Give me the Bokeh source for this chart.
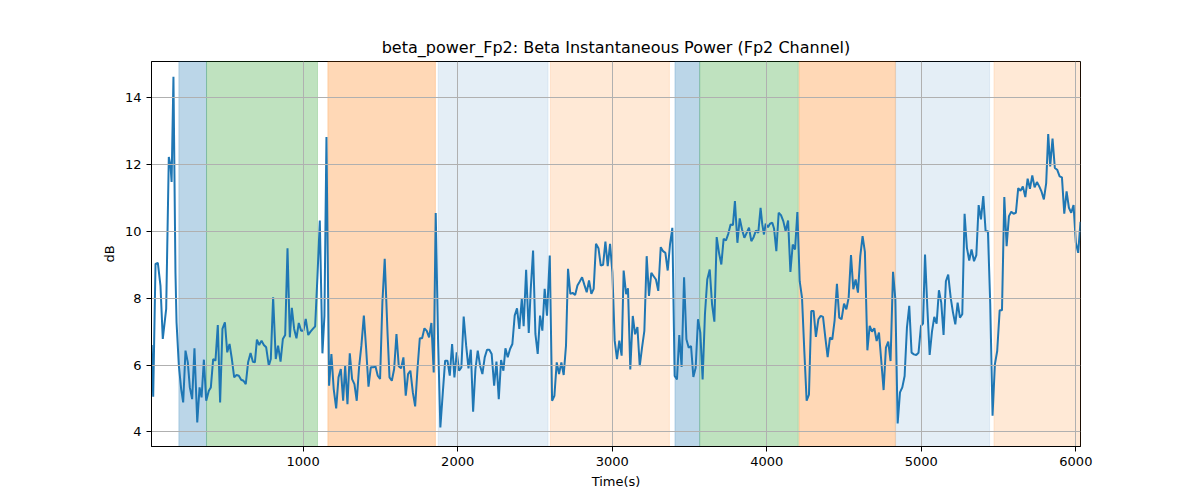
from bokeh.models import ColumnDataSource, BoxAnnotation, FixedTicker
from bokeh.plotting import figure
from bokeh.embed import file_html
from bokeh.resources import INLINE

# beta power trace (time in s, power in dB)
time_s = [20, 30, 45, 60, 77, 92, 114, 131, 142, 149, 161, 174, 181, 196, 211, 224, 239, 254, 267, 282,
          297, 315, 330, 343, 358, 373, 390, 403, 418, 433, 448, 463, 478, 494, 509, 524, 539, 554, 569, 584,
          599, 614, 629, 644, 660, 675, 688, 701, 716, 731, 746, 761, 778, 791, 806, 823, 838, 854, 869, 884,
          899, 914, 927, 942, 957, 972, 987, 1002, 1017, 1033, 1048, 1063, 1078, 1093, 1108, 1125, 1138, 1151, 1168, 1183,
          1198, 1214, 1229, 1244, 1259, 1272, 1287, 1302, 1317, 1332, 1347, 1362, 1377, 1393, 1408, 1423, 1438, 1453, 1468, 1483,
          1498, 1513, 1528, 1546, 1559, 1574, 1589, 1604, 1619, 1634, 1649, 1664, 1679, 1694, 1710, 1725, 1740, 1755, 1770, 1785,
          1800, 1815, 1830, 1845, 1858, 1873, 1888, 1904, 1919, 1934, 1949, 1964, 1979, 1994, 2009, 2024, 2039, 2055, 2070, 2085,
          2100, 2115, 2130, 2145, 2160, 2175, 2190, 2205, 2220, 2236, 2251, 2266, 2281, 2296, 2309, 2324, 2339, 2354, 2369, 2384,
          2399, 2415, 2427, 2443, 2460, 2473, 2488, 2503, 2518, 2533, 2548, 2563, 2578, 2596, 2611, 2626, 2641, 2656, 2671, 2686,
          2701, 2714, 2729, 2744, 2760, 2775, 2790, 2805, 2820, 2835, 2850, 2865, 2880, 2895, 2911, 2926, 2941, 2956, 2971, 2986,
          3001, 3016, 3031, 3046, 3061, 3074, 3090, 3102, 3117, 3133, 3148, 3163, 3178, 3193, 3208, 3223, 3238, 3253, 3268, 3283,
          3298, 3314, 3329, 3344, 3359, 3374, 3389, 3404, 3419, 3434, 3449, 3465, 3480, 3495, 3510, 3525, 3540, 3555, 3570, 3585,
          3600, 3615, 3631, 3646, 3661, 3676, 3691, 3706, 3721, 3736, 3751, 3766, 3781, 3794, 3810, 3825, 3840, 3855, 3870, 3885,
          3900, 3915, 3930, 3945, 3960, 3971, 3982, 3993, 4008, 4021, 4036, 4047, 4062, 4077, 4092, 4107, 4122, 4138, 4153, 4168,
          4183, 4198, 4213, 4228, 4243, 4258, 4273, 4288, 4303, 4318, 4334, 4349, 4364, 4379, 4394, 4409, 4424, 4439, 4454, 4469,
          4484, 4500, 4515, 4530, 4545, 4560, 4575, 4590, 4605, 4620, 4635, 4651, 4666, 4681, 4696, 4711, 4726, 4741, 4756, 4771,
          4786, 4801, 4817, 4832, 4847, 4862, 4877, 4892, 4907, 4922, 4937, 4952, 4967, 4982, 4998, 5011, 5024, 5039, 5054, 5069,
          5084, 5099, 5114, 5129, 5144, 5159, 5174, 5190, 5205, 5220, 5235, 5250, 5265, 5280, 5295, 5310, 5325, 5341, 5356, 5371,
          5386, 5401, 5416, 5431, 5446, 5461, 5476, 5491, 5507, 5522, 5537, 5552, 5567, 5582, 5597, 5612, 5627, 5642, 5657, 5673,
          5688, 5703, 5718, 5733, 5748, 5763, 5778, 5793, 5808, 5821, 5834, 5849, 5864, 5879, 5895, 5910, 5925, 5940, 5955, 5970,
          5985, 6000, 6015, 6030]
power_db = [6.6, 5.05, 9.03, 9.06, 8.38, 6.78, 7.68, 12.23, 11.98, 11.48, 14.63, 8.78, 7.28, 5.98, 5.28, 4.88, 6.43, 6.08, 5.33, 4.98,
            6.5, 4.28, 5.33, 5.03, 6.16, 4.93, 5.23, 5.33, 6.18, 6.13, 7.2, 4.88, 7.08, 7.28, 6.38, 6.63, 6.18, 5.63, 5.7, 5.68,
            5.56, 5.53, 5.43, 6.08, 6.36, 6.1, 6.08, 6.76, 6.6, 6.73, 6.6, 6.53, 5.98, 6.18, 8.03, 6.18, 6.58, 6.1, 6.78, 6.9,
            9.5, 6.83, 7.71, 7.08, 6.8, 7.26, 7.03, 7.03, 7.38, 6.9, 7.0, 7.08, 7.16, 8.68, 10.33, 6.35, 7.48, 12.83, 5.38, 6.33,
            5.28, 4.7, 5.63, 5.88, 4.93, 5.98, 4.83, 6.35, 5.58, 5.43, 4.93, 5.93, 6.58, 7.48, 6.48, 5.35, 5.93, 5.93, 5.96, 5.68,
            5.58, 7.88, 9.18, 6.98, 5.63, 5.53, 5.88, 6.93, 5.96, 5.9, 6.23, 5.08, 5.73, 5.83, 5.18, 4.76, 5.88, 6.8, 6.8, 7.1,
            7.02, 6.83, 7.26, 5.78, 10.55, 6.78, 4.13, 5.18, 6.13, 6.13, 5.68, 6.63, 5.63, 6.38, 5.83, 5.93, 7.45, 6.58, 5.9, 6.46,
            4.6, 5.88, 6.43, 5.98, 5.73, 6.23, 6.46, 6.46, 6.33, 5.38, 6.1, 4.98, 6.15, 5.83, 6.5, 6.23, 6.48, 6.63, 7.48, 7.7,
            7.08, 7.98, 7.16, 8.85, 6.96, 8.28, 9.43, 6.93, 6.33, 7.48, 7.03, 8.28, 7.48, 9.28, 4.93, 5.08, 6.08, 5.73, 6.08, 5.7,
            6.58, 8.88, 8.13, 8.16, 8.1, 8.38, 8.5, 8.63, 8.4, 8.18, 8.53, 8.13, 8.28, 9.63, 9.5, 8.98, 9.0, 9.7, 8.96, 9.63,
            8.78, 6.73, 6.18, 6.73, 6.28, 8.83, 8.12, 8.3, 5.87, 7.47, 6.92, 7.14, 5.97, 6.52, 7.02, 9.26, 8.07, 8.76, 8.66, 8.56,
            8.22, 9.53, 9.41, 9.36, 8.83, 9.61, 10.11, 5.67, 5.57, 6.9, 5.94, 8.63, 6.77, 6.52, 6.57, 5.64, 5.92, 7.37, 6.97, 5.57,
            7.52, 8.56, 8.86, 7.82, 7.3, 9.83, 9.36, 9.01, 9.78, 9.73, 9.93, 10.21, 10.19, 10.91, 9.66, 10.39, 10.06, 9.81, 9.96, 10.11,
            9.71, 9.83, 10.03, 9.96, 10.71, 10.21, 9.91, 10.23, 10.13, 10.23, 10.26, 10.09, 9.41, 10.56, 10.49, 10.31, 10.01, 10.33, 8.79, 9.61,
            9.46, 10.58, 8.51, 8.02, 6.42, 4.93, 5.11, 7.62, 7.62, 6.84, 7.37, 7.47, 7.44, 6.82, 6.24, 6.82, 6.77, 7.34, 8.43, 7.42,
            7.37, 7.84, 7.67, 8.02, 9.29, 8.27, 8.56, 8.17, 9.26, 9.86, 9.39, 6.44, 7.17, 7.0, 7.1, 6.72, 6.97, 6.12, 5.25, 6.52,
            6.7, 6.12, 8.79, 7.97, 4.25, 5.18, 5.33, 5.67, 7.12, 7.77, 6.37, 6.32, 6.3, 6.37, 7.17, 7.24, 9.31, 7.72, 6.3, 7.0,
            7.44, 7.24, 8.24, 7.87, 6.9, 8.51, 8.71, 8.02, 7.57, 7.22, 7.87, 7.42, 7.52, 10.53, 9.51, 9.13, 9.46, 9.11, 9.29, 10.79,
            10.36, 11.06, 10.01, 10.01, 7.82, 4.48, 6.02, 6.42, 7.64, 7.64, 11.03, 9.56, 10.46, 10.59, 10.53, 10.56, 11.3, 11.22, 11.35, 11.03,
            11.58, 11.28, 11.68, 11.32, 11.48, 11.35, 11.19, 10.96, 11.45, 12.92, 11.95, 12.78, 11.9, 11.85, 11.65, 11.62, 10.53, 11.2, 10.71, 10.56,
            10.79, 9.66, 9.36, 10.29]

# shaded segments (start, end, colour, alpha)
seg_start = [196, 375, 1160, 1874, 2600, 3406, 3566, 4209, 4834, 5470]
seg_end = [375, 1093, 1856, 2585, 3370, 3566, 4204, 4832, 5442, 6030]
seg_color = ["#1f77b4", "#2ca02c", "#ff7f0e", "#1f77b4", "#ff7f0e",
             "#1f77b4", "#2ca02c", "#ff7f0e", "#1f77b4", "#ff7f0e"]
seg_alpha = [0.3, 0.3, 0.3, 0.12, 0.17, 0.3, 0.3, 0.3, 0.12, 0.17]

x_ticks = [1000, 2000, 3000, 4000, 5000, 6000]
y_ticks = [4, 6, 8, 10, 12, 14]

font = "DejaVu Sans"

p = figure(width=1184, height=492, output_backend="svg", toolbar_location=None,
           x_range=(19, 6030), y_range=(3.56, 15.09),
           title="beta_power_Fp2: Beta Instantaneous Power (Fp2 Channel)",
           x_axis_label="Time(s)", y_axis_label="dB",
           min_border_left=151, min_border_right=104, min_border_top=61, min_border_bottom=46)

p.title.align = "center"
p.title.text_font = font
p.title.text_font_size = "16px"
p.title.text_font_style = "normal"
p.title.text_color = "black"
p.title.offset = 0
p.title.standoff = 10

for s, e, c, a in zip(seg_start, seg_end, seg_color, seg_alpha):
    p.add_layout(BoxAnnotation(left=s, right=e, fill_color=c, fill_alpha=a,
                               line_color=c, line_alpha=a * 0.8, line_width=1, level="underlay"))

src = ColumnDataSource(data=dict(t=time_s, db=power_db))
p.line("t", "db", source=src, line_color="#1f77b4", line_width=2)

p.xaxis.ticker = FixedTicker(ticks=x_ticks)
p.yaxis.ticker = FixedTicker(ticks=y_ticks)
for ax in (p.xaxis, p.yaxis):
    ax.minor_tick_line_color = None
    ax.major_tick_out = 5
    ax.major_tick_in = 0
    ax.major_tick_line_color = "black"
    ax.axis_line_color = "black"
    ax.major_label_text_font = font
    ax.major_label_text_font_size = "13px"
    ax.major_label_text_color = "black"
    ax.axis_label_text_font = font
    ax.axis_label_text_font_size = "13px"
    ax.axis_label_text_font_style = "normal"
    ax.axis_label_text_color = "black"
p.xaxis.axis_label_standoff = 5
p.yaxis.axis_label_standoff = 5

p.grid.grid_line_color = "#b0b0b0"
p.grid.grid_line_width = 1
p.grid.level = "glyph"
p.outline_line_color = "black"
p.outline_line_alpha = 1
p.outline_line_width = 1
p.background_fill_color = "white"
p.border_fill_color = "white"

open("out.html", "w").write(file_html(p, INLINE))
